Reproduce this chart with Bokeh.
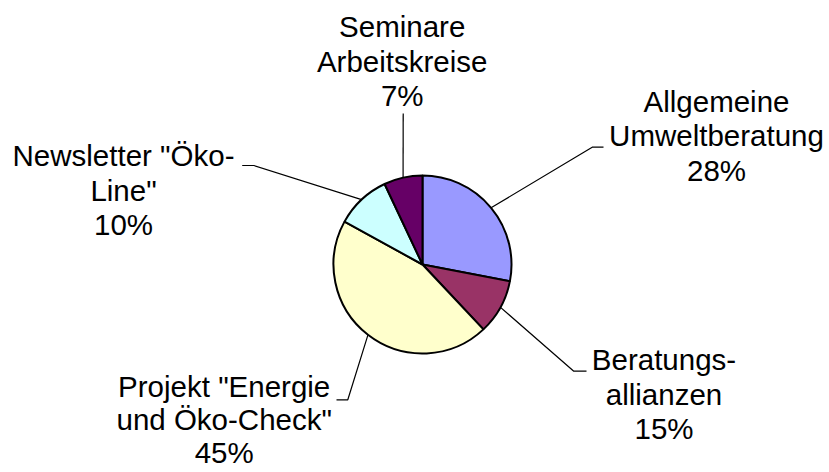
import math
from bokeh.plotting import figure
from bokeh.models import Range1d, ColumnDataSource
from bokeh.core.properties import value
from bokeh.embed import file_html
from bokeh.resources import INLINE

# ---- data ----
categories = [
    ["Allgemeine", "Umweltberatung"],
    ["Beratungs-", "allianzen"],
    ["Projekt \"Energie", "und Öko-Check\""],
    ["Newsletter \"Öko-", "Line\""],
    ["Seminare", "Arbeitskreise"],
]
values = [28, 10, 45, 10, 7]
pct_labels = ["28%", "15%", "45%", "10%", "7%"]
colors = ["#9999FF", "#993366", "#FFFFCC", "#CCFFFF", "#660066"]

# ---- layout (screen pixel coordinates of the picture) ----
W, H = 829, 472
cx_px, cy_px, R = 422, 264, 89
label_center_x = [716, 663.5, 223.7, 123, 401.7]
label_first_baseline = [111.7, 370, 397, 166, 37]
label_step = [34.5, 34.5, 33.0, 34.5, 34.5]
text_shift = -11  # renderer baseline correction
# leader lines: elbow point and end of the short horizontal stub
elbows = [(591.7, 146.7), (573.3, 370.7), (347.3, 399.3), (253.3, 165), (402.7, 113)]
stubs = [(603, 146.7), (586, 370.7), (336, 399.3), (241.7, 165), (402.7, 113)]


def dy(py):
    return H - py


p = figure(width=W, height=H,
           x_range=Range1d(0, W), y_range=Range1d(0, H),
           output_backend="svg", toolbar_location=None, min_border=0,
           x_axis_location=None, y_axis_location=None)
p.grid.visible = False
p.outline_line_color = None
p.background_fill_color = "white"
p.border_fill_color = "white"

total = float(sum(values))
starts, ends, mids = [], [], []
cum = 0.0
for v in values:
    a0 = math.pi / 2 - 2 * math.pi * cum / total
    cum += v
    a1 = math.pi / 2 - 2 * math.pi * cum / total
    starts.append(a0)
    ends.append(a1)
    mids.append((a0 + a1) / 2)

cx, cy = cx_px, dy(cy_px)
src = ColumnDataSource(dict(start=starts, end=ends, color=colors))
p.wedge(x=cx, y=cy, radius=R, start_angle="start", end_angle="end",
        direction="clock", fill_color="color", line_color="black",
        line_width=2, source=src)

# leader lines
xs, ys = [], []
for m, (ex, ey), (sx, sy) in zip(mids, elbows, stubs):
    px0 = cx + R * math.cos(m)
    py0 = cy + R * math.sin(m)
    xs.append([px0, ex, sx])
    ys.append([py0, dy(ey), dy(sy)])
p.multi_line(xs=xs, ys=ys, line_color="black", line_width=1.2)

# labels
tx, ty, tt = [], [], []
for lines, pct, lx, b0, st in zip(categories, pct_labels, label_center_x,
                                  label_first_baseline, label_step):
    for i, t in enumerate(lines + [pct]):
        tx.append(lx)
        ty.append(dy(b0 + i * st + text_shift))
        tt.append(t)
p.text(x=tx, y=ty, text=tt, text_font=value("Liberation Sans"),
       text_font_size="29.5px", text_align="center", text_baseline="alphabetic",
       text_color="black")

open("out.html", "w").write(file_html(p, INLINE))
